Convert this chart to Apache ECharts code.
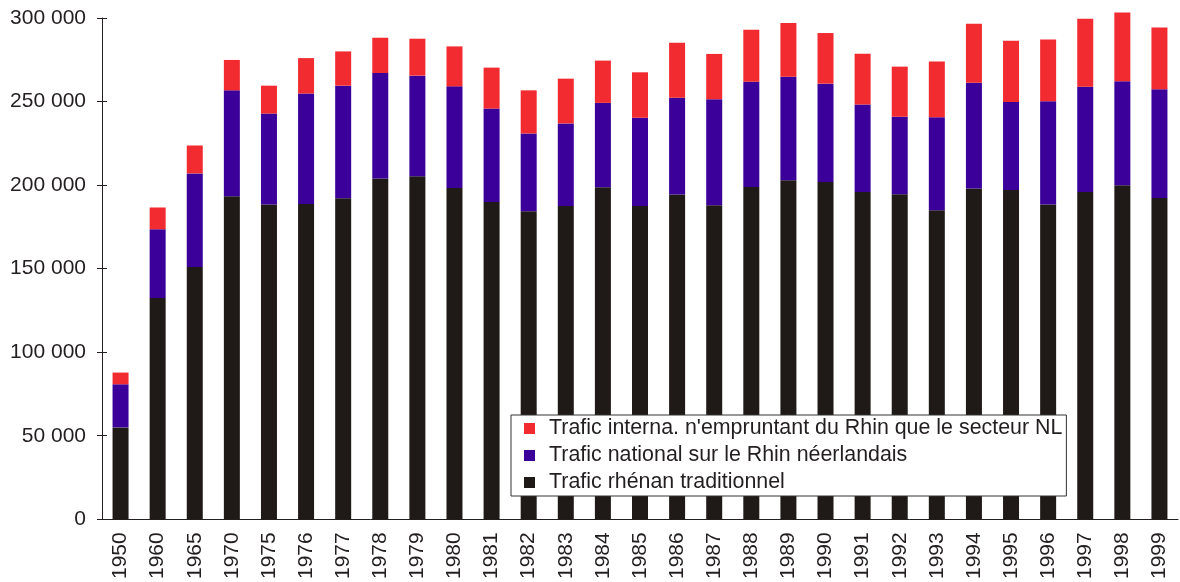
<!DOCTYPE html>
<html>
<head>
<meta charset="utf-8">
<script src="https://cdn.jsdelivr.net/npm/echarts@6/dist/echarts.min.js"></script>
<style>
  html, body { margin: 0; padding: 0; background: #fff; }
  #chart { width: 1180px; height: 582px; }
</style>
</head>
<body>
<div id="chart"></div>
<script>
var years = ['1950','1960','1965','1970','1975','1976','1977','1978','1979','1980',
  '1981','1982','1983','1984','1985','1986','1987','1988','1989','1990',
  '1991','1992','1993','1994','1995','1996','1997','1998','1999'];
// Trafic rhénan traditionnel
var traditionnel = [55000,132500,151000,193300,188400,188700,192100,204000,205300,198300,
  189900,184400,187500,198700,187500,194300,188000,198900,202900,201800,
  195900,194500,185000,197900,197100,188400,195900,199900,192300];
// Trafic national sur le Rhin néerlandais
var national = [25800,41100,56000,63400,54400,66100,67400,63100,60200,60800,
  55900,46500,49400,50500,52800,57900,63400,62900,62000,58900,
  52300,46400,55600,63400,52700,61800,63000,62200,65000];
// Trafic interna. n'empruntant du Rhin que le secteur NL
var interna = [7000,13000,16700,18200,16700,21200,20500,21100,22100,23900,
  24500,25800,26800,25300,27200,33000,27100,31200,32100,30300,
  30400,30000,33300,35200,36600,37000,40600,41200,37000];

var names = ['Trafic interna. n\'empruntant du Rhin que le secteur NL',
  'Trafic national sur le Rhin néerlandais',
  'Trafic rhénan traditionnel'];

var font = 'Liberation Sans, Arial, sans-serif';
var ink = '#231f20';

function fmt(v) {
  return String(v).replace(/\B(?=(\d{3})+(?!\d))/g, ' ');
}

var chart = echarts.init(document.getElementById('chart'));
var option = {
  animation: false,
  textStyle: { fontFamily: font },
  grid: { left: 102, right: 2, top: 18, bottom: 61, containLabel: false },
  legend: {
    data: names,
    orient: 'vertical',
    left: 511,
    top: 415,
    backgroundColor: '#fff',
    borderColor: '#333',
    borderWidth: 1,
    borderRadius: 0,
    padding: [3, 4, 3, 13],
    itemGap: 6,
    itemWidth: 11,
    itemHeight: 11,
    icon: 'rect',
    textStyle: { fontFamily: font, fontSize: 21.4, color: ink, padding: [0, 0, 0, 9] }
  },
  xAxis: [{
    type: 'category',
    data: years,
    axisLine: { lineStyle: { color: ink, width: 1 } },
    axisTick: { length: 5, lineStyle: { color: ink } },
    axisLabel: { rotate: 90, margin: 13, fontSize: 21, color: ink, fontFamily: font }
  }, {
    type: 'category',
    data: years,
    position: 'bottom',
    axisLine: { show: false },
    axisTick: { inside: true, length: 5, lineStyle: { color: ink } },
    axisLabel: { show: false }
  }],
  yAxis: [{
    type: 'value',
    min: 0,
    max: 300000,
    interval: 50000,
    splitLine: { show: false },
    axisLine: { show: true, lineStyle: { color: ink, width: 1 } },
    axisTick: { show: true, length: 5, lineStyle: { color: ink } },
    axisLabel: { margin: 16, fontSize: 21, color: ink, fontFamily: font, formatter: fmt }
  }, {
    type: 'value',
    min: 0,
    max: 300000,
    interval: 50000,
    position: 'left',
    splitLine: { show: false },
    axisLine: { show: false },
    axisTick: { show: true, inside: true, length: 5, lineStyle: { color: ink } },
    axisLabel: { show: false }
  }],
  series: [{
    name: names[2],
    type: 'bar',
    stack: 'total',
    barWidth: 16,
    clip: false,
    itemStyle: { color: '#1f1a17' },
    data: traditionnel
  }, {
    name: names[1],
    type: 'bar',
    stack: 'total',
    barWidth: 16,
    clip: false,
    itemStyle: { color: '#3a0099' },
    data: national
  }, {
    name: names[0],
    type: 'bar',
    stack: 'total',
    barWidth: 16,
    clip: false,
    itemStyle: { color: '#f12b30' },
    data: interna
  }]
};
chart.setOption(option);
</script>
</body>
</html>
